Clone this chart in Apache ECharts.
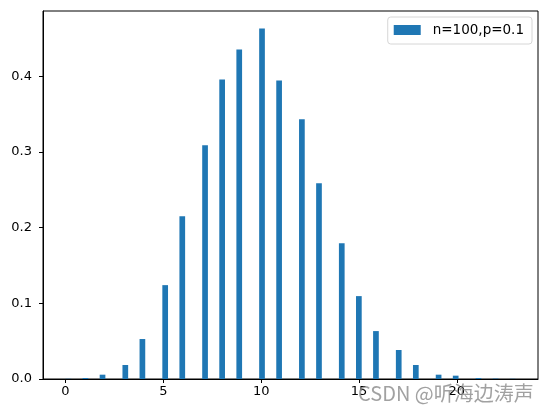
<!DOCTYPE html>
<html><head><meta charset="utf-8">
<script src="https://cdn.jsdelivr.net/npm/echarts@6/dist/echarts.min.js"></script>
<style>html,body{margin:0;padding:0;background:#fff}#c{width:547px;height:413px}</style>
</head><body><div id="c"></div>
<script>
const seriesName = 'n=100,p=0.1';
const outcomes = [0,1,2,3,4,5,6,7,8,9,10,11,12,13,14,15,16,17,18,19,20,21,22,23];
const density = [0.0003,0.0013,0.0057,0.0185,0.0528,0.124,0.215,0.3087,0.3958,0.4354,0.463,0.3945,0.343,0.2586,0.1794,0.1095,0.0633,0.0383,0.0185,0.0057,0.0044,0.0013,0.0006,0.0003];
const xTicks = [0,5,10,15,20];
const yTicks = [0,0.1,0.2,0.3,0.4];
const binCount = 79;
const watermark = 'CSDN @听海边涛声';

const xMin = Math.min(...outcomes), xMax = Math.max(...outcomes);
const binW = (xMax - xMin) / binCount;
const bars = outcomes.map((v, i) => {
  let k = Math.floor((v - xMin) / binW);
  if (k >= binCount) k = binCount - 1;
  const l = xMin + k * binW;
  return [l, l + binW, density[i]];
});
const span = xMax - xMin;
const yMax = Math.max(...density) * 1.05;
const font = 'DejaVu Sans';
const chart = echarts.init(document.getElementById('c'), null, {renderer: 'canvas'});
chart.setOption({
  animation: false,
  backgroundColor: '#fff',
  grid: {left: 43, right: 9, top: 11, bottom: 34, show: true, borderColor: '#000', borderWidth: 1, backgroundColor: 'transparent'},
  legend: {
    right: 15, top: 17, padding: [6, 8, 7, 6],
    borderColor: '#d6d6d6', borderWidth: 1, borderRadius: 3,
    itemWidth: 27, itemHeight: 10, itemGap: 10,
    textStyle: {fontFamily: font, fontSize: 13.5, color: '#000', padding: [0, 0, 0, 7]},
    data: [{name: seriesName, icon: 'rect'}]
  },
  xAxis: {
    type: 'value', min: xMin - 0.05 * span, max: xMax + 0.05 * span,
    splitLine: {show: false},
    axisLine: {show: true, onZero: false, lineStyle: {color: '#000', width: 1}},
    axisTick: {show: true, length: 4, lineStyle: {color: '#000', width: 1}, customValues: xTicks},
    axisLabel: {color: '#000', fontFamily: font, fontSize: 13, margin: 6, customValues: xTicks}
  },
  yAxis: {
    type: 'value', min: 0, max: yMax,
    splitLine: {show: false},
    axisLine: {show: true, onZero: false, lineStyle: {color: '#000', width: 1}},
    axisTick: {show: true, length: 4, lineStyle: {color: '#000', width: 1}, customValues: yTicks},
    axisLabel: {color: '#000', fontFamily: font, fontSize: 13, margin: 11, customValues: yTicks,
      formatter: v => v.toFixed(1)}
  },
  series: [{
    type: 'custom', name: seriesName,
    itemStyle: {color: '#1f77b4'},
    encode: {x: [0, 1], y: 2},
    data: bars,
    renderItem: (params, api) => {
      const p0 = api.coord([api.value(0), api.value(2)]);
      const p1 = api.coord([api.value(1), 0]);
      return {type: 'rect', shape: {x: p0[0], y: p0[1], width: p1[0] - p0[0], height: p1[1] - p0[1]},
        style: {fill: '#1f77b4'}};
    }
  }],
  graphic: [{
    type: 'text', left: 358, top: 383, z: 100,
    style: {text: watermark, fontFamily: 'Noto Sans CJK SC', fontSize: 20, fill: 'rgba(130,130,130,0.75)'}
  }]
});
</script></body></html>
